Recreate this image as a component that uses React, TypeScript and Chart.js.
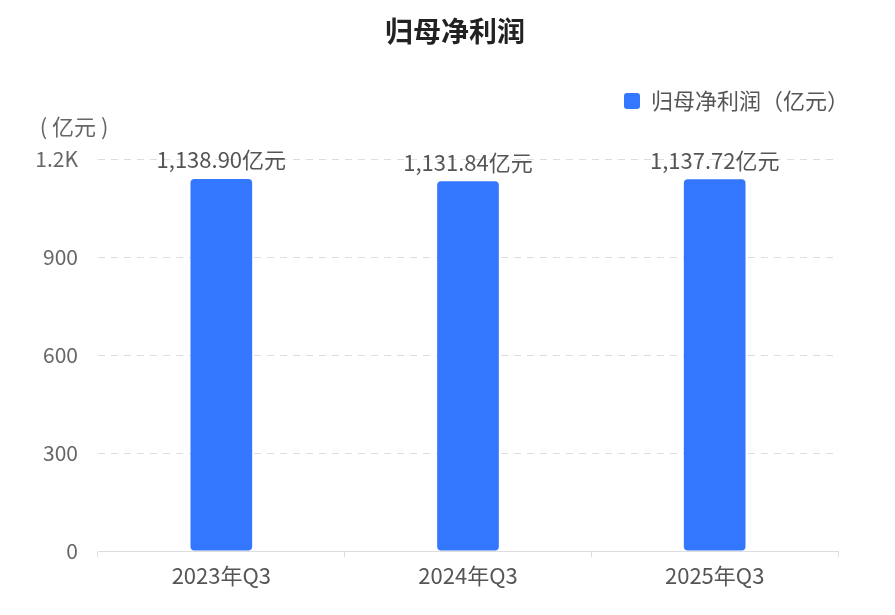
import React, { useEffect, useRef } from "react";
import { Chart, registerables } from "chart.js";

Chart.register(...registerables);

const title = "归母净利润";
const unitLabel = "( 亿元 )";
const seriesName = "归母净利润（亿元）";
const quarters = ["2023年Q3", "2024年Q3", "2025年Q3"];
const netProfit = [1138.9, 1131.84, 1137.72];
const yTicks = [0, 300, 600, 900, 1200];

const FONT = "'Noto Sans CJK SC', 'Noto Sans', sans-serif";
const BAR_COLOR = "#3377ff";

const fmt = (v: number) =>
  v.toLocaleString("en-US", { minimumFractionDigits: 2, maximumFractionDigits: 2 }) + "亿元";

// title, unit and value labels drawn straight onto the canvas
const extrasPlugin = {
  id: "extras",
  beforeInit(chart: any) {
    const legend = chart.legend;
    if (!legend) return;
    const fit = legend.fit;
    legend.fit = function () {
      fit.bind(this)();
      this.height += 37;
    };
  },
  afterLayout(chart: any) {
    // push the legend right so it ends at the plot's right edge
    chart.legend.left += 21;
    chart.legend.right += 21;
  },
  afterDatasetsDraw(chart: any) {
    const ctx = chart.ctx;
    ctx.save();
    ctx.textAlign = "center";
    ctx.textBaseline = "middle";

    ctx.fillStyle = "#222";
    ctx.font = `bold 28px ${FONT}`;
    ctx.fillText(title, 455, 31);

    ctx.fillStyle = "#666";
    ctx.font = `22px ${FONT}`;
    ctx.fillText(unitLabel, 74, 127);

    ctx.fillStyle = "#555";
    ctx.font = `22px ${FONT}`;
    const meta = chart.getDatasetMeta(0);
    meta.data.forEach((bar: any, i: number) => {
      ctx.fillText(fmt(netProfit[i]), bar.x, bar.y - 19);
    });
    ctx.restore();
  },
};

export default function App() {
  const canvasRef = useRef<HTMLCanvasElement>(null);

  useEffect(() => {
    const ctx = canvasRef.current!.getContext("2d")!;
    const chart = new Chart(ctx, {
      type: "bar",
      data: {
        labels: quarters,
        datasets: [
          {
            label: seriesName,
            data: netProfit,
            backgroundColor: BAR_COLOR,
            borderRadius: 4,
            borderSkipped: false,
            barPercentage: 0.25,
            categoryPercentage: 1,
          },
        ],
      },
      options: {
        responsive: true,
        maintainAspectRatio: false,
        animation: false,
        layout: { padding: { top: 80, right: 57, left: 0, bottom: 0 } },
        plugins: {
          title: { display: false },
          tooltip: { enabled: false },
          legend: {
            position: "top",
            align: "end",
            labels: {
              boxWidth: 16,
              boxHeight: 16,
              useBorderRadius: true,
              borderRadius: 3,
              color: "#555",
              font: { size: 22, family: FONT },
              padding: 10,
            },
          },
        },
        scales: {
          x: {
            grid: {
              display: true,
              drawOnChartArea: false,
              drawTicks: true,
              tickLength: 6,
              color: "#ddd",
            },
            border: { display: true, color: "#ddd" },
            ticks: { color: "#555", font: { size: 22, family: FONT }, padding: 5 },
            afterFit: (scale: any) => {
              scale.height = 64;
            },
          },
          y: {
            min: 0,
            max: 1200,
            afterBuildTicks: (scale: any) => {
              scale.ticks = yTicks.map((v) => ({ value: v }));
            },
            grid: { color: "#ddd", drawTicks: false },
            border: { display: false, dash: [7, 6] },
            ticks: {
              color: "#666",
              font: { size: 21, family: FONT },
              padding: 20,
              callback: (v: any) => (v >= 1000 ? v / 1000 + "K" : String(v)),
            },
            afterFit: (scale: any) => {
              scale.width = 98;
            },
          },
        },
      },
      plugins: [extrasPlugin],
    });
    return () => {
      chart.destroy();
    };
  }, []);

  return (
    <div style={{ position: "absolute", left: 0, top: 0, width: 895, height: 615 }}>
      <canvas ref={canvasRef} />
    </div>
  );
}
